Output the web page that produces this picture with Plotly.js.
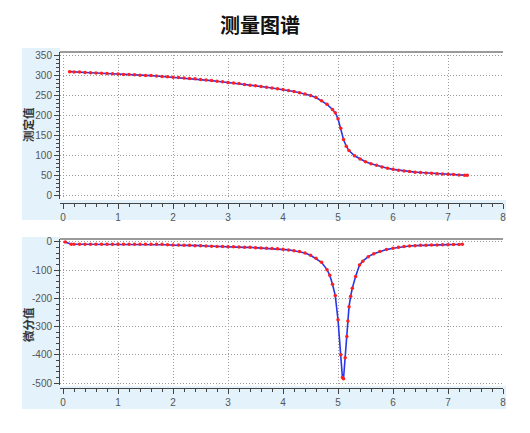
<!DOCTYPE html>
<html>
<head>
<meta charset="utf-8">
<script src="https://cdn.plot.ly/plotly-3.0.1.min.js"></script>
<style>html,body{margin:0;padding:0;background:#fff;}#chart{width:530px;height:433px;}</style>
</head>
<body>
<div id="chart"></div>
<script>
// ---- data ----
const volTop = [0.12,0.2,0.3,0.4,0.5,0.6,0.7,0.8,0.9,1.0,1.1,1.2,1.3,1.4,1.5,1.6,1.7,1.8,1.9,2.0,2.1,2.2,2.3,2.4,2.5,2.6,2.7,2.8,2.9,3.0,3.1,3.2,3.3,3.4,3.5,3.6,3.7,3.8,3.9,4.0,4.1,4.2,4.3,4.4,4.5,4.6,4.7,4.8,4.9,4.95,5.0,5.05,5.1,5.15,5.2,5.3,5.4,5.5,5.6,5.7,5.8,5.9,6.0,6.1,6.2,6.3,6.4,6.5,6.6,6.7,6.8,6.9,7.0,7.1,7.2,7.3,7.35];
const measured = [310,309,309,308,307,306.5,306,305,304.5,304,303,302.5,302,301,300.5,300,299,298,297,296,295,294,293,292,290.5,289,287.5,286,284.5,283,281.5,280,278,276,274.5,273,271,269,267,265,262.5,260,257,254,250,245,237,228,215,207,192,168,140,123,112,99,91,84,79,75,71,68,65,63,61,59.5,58,57,56,55,54,53.5,53,52,51,50.5,50];

const volDiff = [0.04,0.15,0.2,0.3,0.4,0.5,0.6,0.7,0.8,0.9,1.0,1.1,1.2,1.3,1.4,1.5,1.6,1.7,1.8,1.9,2.0,2.1,2.2,2.3,2.4,2.5,2.6,2.7,2.8,2.9,3.0,3.1,3.2,3.3,3.4,3.5,3.6,3.7,3.8,3.9,4.0,4.1,4.2,4.3,4.4,4.5,4.6,4.7,4.8,4.85,4.9,4.95,5.0,5.05,5.08,5.1,5.13,5.16,5.18,5.2,5.23,5.26,5.32,5.39,5.45,5.55,5.65,5.76,5.88,6.0,6.1,6.2,6.3,6.4,6.5,6.6,6.7,6.8,6.9,7.0,7.1,7.2,7.26];
const derivative = [0,-8,-8,-8,-8,-8,-8,-8,-8,-8,-8,-8,-8,-8,-8,-8,-8,-8,-8,-10,-11,-11,-12,-12,-13,-13,-14,-15,-16,-16,-17,-17,-18,-19,-19,-20,-21,-22,-23,-24,-26,-28,-31,-34,-39,-47,-58,-72,-98,-118,-150,-190,-276,-400,-480,-485,-410,-335,-280,-230,-192,-164,-122,-82,-68,-52,-42,-34,-27,-22,-19,-16,-14,-13,-12,-11.5,-11,-10.5,-10,-9.5,-9,-8.5,-8];

const titleText = '测量图谱';
const topYLabel = '测定值';
const botYLabel = '微分值';
const topYTicks = [0,50,100,150,200,250,300,350];
const botYTicks = [0,-100,-200,-300,-400,-500];
const botYTickText = ['0','-100','-200','-300','-400','-500'];

// ---- layout helpers (pixel -> paper) ----
const W = 530, H = 433;
const px = v => v / W;
const py = v => 1 - v / H;

const tickFont = {family: 'Liberation Sans Narrow, Liberation Sans, Arial, sans-serif', size: 10, color: '#555'};
const lineStyle = {color: '#2b35e8', width: 1.6};
const markerStyle = {color: '#ff1f1f', size: 3.5};

const traces = [
  {x: volTop, y: measured, xaxis: 'x', yaxis: 'y', mode: 'lines+markers', line: lineStyle, marker: markerStyle, hoverinfo: 'x+y'},
  {x: volDiff, y: derivative, xaxis: 'x2', yaxis: 'y2', mode: 'lines+markers', line: lineStyle, marker: markerStyle, hoverinfo: 'x+y'}
];

const gridDash = '1px,2px';
const gridColor = '#9c9c9c';

const xCommon = {
  range: [-0.055, 8.0], dtick: 1, tick0: 0,
  ticks: 'outside', ticklen: 5, tickcolor: '#444', tickwidth: 1,
  showline: true, linecolor: '#444', linewidth: 1,
  showgrid: true, gridcolor: gridColor, griddash: gridDash, gridwidth: 1,
  zeroline: false, tickfont: tickFont,
  minor: {tickmode: 'linear', tick0: 0, dtick: 0.2, ticks: 'outside', ticklen: 3, tickcolor: '#444', showgrid: false},
  anchor: 'free', fixedrange: true
};
const yCommon = {
  ticks: 'outside', ticklen: 5, tickcolor: '#444', tickwidth: 1,
  showline: true, linecolor: '#444', linewidth: 1,
  showgrid: true, gridcolor: gridColor, griddash: gridDash, gridwidth: 1,
  zeroline: false, tickfont: tickFont, fixedrange: true
};

const panelBlue = '#e4f2fb';

const layout = {
  width: W, height: H, autosize: false,
  margin: {l: 0, r: 0, t: 0, b: 0},
  paper_bgcolor: '#ffffff', plot_bgcolor: '#ffffff',
  showlegend: false,
  xaxis: Object.assign({}, xCommon, {domain: [px(60), px(503)], position: py(203)}),
  yaxis: Object.assign({}, yCommon, {domain: [py(199), py(52)], range: [-9.3, 359.2], anchor: 'x',
    tickmode: 'array', tickvals: topYTicks,
    minor: {tickmode: 'linear', tick0: 0, dtick: 10, ticks: 'outside', ticklen: 3, tickcolor: '#444', showgrid: false}}),
  xaxis2: Object.assign({}, xCommon, {domain: [px(60), px(503)], position: py(388)}),
  yaxis2: Object.assign({}, yCommon, {domain: [py(385), py(239)], range: [-507, 10.6], anchor: 'x2',
    tickmode: 'array', tickvals: botYTicks, ticktext: botYTickText,
    minor: {tickmode: 'linear', tick0: 0, dtick: 20, ticks: 'outside', ticklen: 3, tickcolor: '#444', showgrid: false}}),
  shapes: [
    // blue panels
    {type: 'rect', xref: 'paper', yref: 'paper', x0: px(22), x1: px(506), y0: py(220), y1: py(48), fillcolor: panelBlue, line: {width: 0}, layer: 'below'},
    {type: 'rect', xref: 'paper', yref: 'paper', x0: px(22), x1: px(506), y0: py(409), y1: py(237), fillcolor: panelBlue, line: {width: 0}, layer: 'below'},
    // white plotting areas
    {type: 'rect', xref: 'paper', yref: 'paper', x0: px(60), x1: px(506), y0: py(200), y1: py(48), fillcolor: '#ffffff', line: {width: 0}, layer: 'below'},
    {type: 'rect', xref: 'paper', yref: 'paper', x0: px(60), x1: px(506), y0: py(386), y1: py(237), fillcolor: '#ffffff', line: {width: 0}, layer: 'below'},
    // top frame lines
    {type: 'line', xref: 'paper', yref: 'paper', x0: px(60), x1: px(503), y0: py(52), y1: py(52), line: {color: '#9a9a9a', width: 2}},
    {type: 'line', xref: 'paper', yref: 'paper', x0: px(60), x1: px(503), y0: py(239), y1: py(239), line: {color: '#9a9a9a', width: 2}}
  ],
  annotations: [
    {text: '<b>' + titleText + '</b>', xref: 'paper', yref: 'paper', x: px(260), y: py(25), xanchor: 'center', yanchor: 'middle', showarrow: false,
     font: {family: 'Noto Sans CJK SC, sans-serif', size: 20, color: '#111'}},
    {text: '<b>' + topYLabel + '</b>', xref: 'paper', yref: 'paper', x: px(28), y: py(125), xanchor: 'center', yanchor: 'middle', showarrow: false, textangle: -90,
     font: {family: 'Noto Sans CJK SC, sans-serif', size: 11.5, color: '#333'}},
    {text: '<b>' + botYLabel + '</b>', xref: 'paper', yref: 'paper', x: px(28), y: py(325), xanchor: 'center', yanchor: 'middle', showarrow: false, textangle: -90,
     font: {family: 'Noto Sans CJK SC, sans-serif', size: 11.5, color: '#333'}}
  ]
};

Plotly.newPlot('chart', traces, layout, {staticPlot: true, displayModeBar: false});
</script>
</body>
</html>
